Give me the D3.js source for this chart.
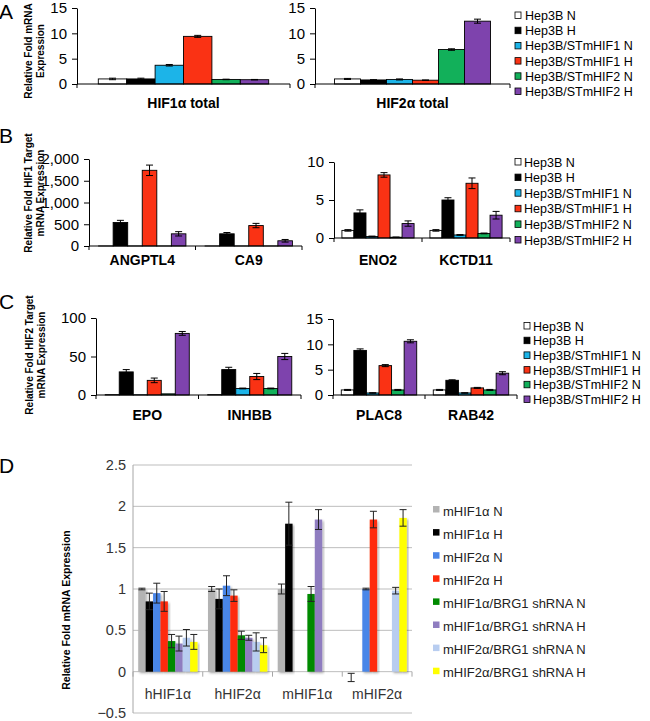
<!DOCTYPE html>
<html>
<head>
<meta charset="utf-8">
<script src="https://cdn.jsdelivr.net/npm/d3@7"></script>
<style>
  body { margin: 0; background: #fff; }
  svg { display: block; font-family: Arial, "Liberation Sans", sans-serif; }
</style>
</head>
<body>
<div class="fig"></div>
<script>
// series shared by panels A, B and C
const hepSeries = ["Hep3B N", "Hep3B H", "Hep3B/STmHIF1 N", "Hep3B/STmHIF1 H", "Hep3B/STmHIF2 N", "Hep3B/STmHIF2 H"];
const hepColors = ["#ffffff", "#000000", "#1cb4e8", "#fa3214", "#12b05a", "#7e43ad"];

// A
const aLeftGenes = ["HIF1α total"];
const aLeftValues = [[1.0, 1.0, 3.7, 9.4, 0.9, 0.85]];
const aLeftErrors = [[0.15, 0.15, 0.15, 0.2, 0.05, 0.05]];
const aRightGenes = ["HIF2α total"];
const aRightValues = [[1.0, 0.8, 0.9, 0.75, 6.8, 12.4]];
const aRightErrors = [[0.1, 0.05, 0.1, 0.05, 0.15, 0.4]];
const aTicks = [0, 5, 10, 15];

// B
const bLeftGenes = ["ANGPTL4", "CA9"];
const bLeftValues = [[1, 540, 1, 1740, 1, 280], [1, 280, 1, 470, 1, 120]];
const bLeftErrors = [[0, 50, 0, 120, 0, 50], [0, 30, 0, 50, 0, 30]];
const bLeftTicks = [0, 500, 1000, 1500, 2000];
const bRightGenes = ["ENO2", "KCTD11"];
const bRightValues = [[1.0, 3.3, 0.2, 8.3, 0.1, 1.9], [1.0, 5.0, 0.4, 7.2, 0.6, 3.0]];
const bRightErrors = [[0.1, 0.4, 0.05, 0.3, 0.02, 0.35], [0.1, 0.3, 0.05, 0.7, 0.05, 0.5]];
const bRightTicks = [0, 5, 10];

// C
const cLeftGenes = ["EPO", "INHBB"];
const cLeftValues = [[0.5, 30, 0.3, 19, 1.5, 80], [0.5, 33, 8.5, 24, 8.5, 50]];
const cLeftErrors = [[0, 3, 0, 3, 0, 2.5], [0, 3, 0.5, 4, 0.5, 4]];
const cLeftTicks = [0, 50, 100];
const cRightGenes = ["PLAC8", "RAB42"];
const cRightValues = [[1.0, 8.8, 0.4, 5.8, 1.0, 10.6], [1.0, 2.9, 0.4, 1.4, 1.0, 4.3]];
const cRightErrors = [[0.1, 0.3, 0.05, 0.2, 0.1, 0.3], [0.1, 0.1, 0.05, 0.1, 0.1, 0.3]];
const cRightTicks = [0, 5, 10, 15];

// D
const dCategories = ["hHIF1α", "hHIF2α", "mHIF1α", "mHIF2α"];
const dSeries = ["mHIF1α N", "mHIF1α H", "mHIF2α N", "mHIF2α H",
  "mHIF1α/BRG1 shRNA N", "mHIF1α/BRG1 shRNA H", "mHIF2α/BRG1 shRNA N", "mHIF2α/BRG1 shRNA H"];
const dColors = ["#b3b3b3", "#000000", "#4a86e8", "#ff2a0a", "#008a00", "#8f7dc0", "#b8cdf0", "#ffff00"];
const dValues = [
  [1.0, 1.0, 1.0, -0.07],
  [0.85, 0.88, 1.79, 0],
  [0.95, 1.04, 0, 1.0],
  [0.85, 0.92, 0, 1.84],
  [0.37, 0.44, 0.94, 0],
  [0.34, 0.41, 1.84, 0],
  [0.41, 0.36, 0, 0.98],
  [0.36, 0.32, 0, 1.86]
];
const dErrors = [
  [0.01, 0.03, 0.06, 0.05],
  [0.1, 0.12, 0.26, 0],
  [0.12, 0.12, 0, 0.01],
  [0.12, 0.07, 0, 0.1],
  [0.08, 0.05, 0.09, 0],
  [0.09, 0.03, 0.12, 0],
  [0.1, 0.11, 0, 0.04],
  [0.09, 0.09, 0, 0.1]
];
const dTicks = [-0.5, 0, 0.5, 1, 1.5, 2, 2.5];

const width = 650, height = 721;

const svg = d3.select('.fig')
  .append('svg')
    .attr('width', width)
    .attr('height', height);

function hepPanel(box, genes, values, errors, ticks) {
  const g = svg.append('g');
  const x0 = d3.scaleBand().domain(genes).range([box.x0, box.x1]);
  const bw = x0.bandwidth();
  const x1 = d3.scaleBand().domain(hepSeries).range([bw * box.pad, bw * (1 - box.pad)]);
  const y = d3.scaleLinear().domain([0, d3.max(ticks)]).range([box.y0, box.yTop]);

  const rows = genes.flatMap((gene, i) => hepSeries.map((s, j) => ({
    gene, s, j, v: values[i][j], e: errors[i][j]
  })));

  g.selectAll('rect.bar')
    .data(rows)
    .enter()
    .append('rect')
      .attr('class', 'bar')
      .attr('x', d => x0(d.gene) + x1(d.s))
      .attr('y', d => y(d.v))
      .attr('width', x1.bandwidth())
      .attr('height', d => y(0) - y(d.v))
      .attr('fill', d => hepColors[d.j])
      .attr('stroke', '#000')
      .attr('stroke-width', 0.9);

  const cap = 3.5;
  const eb = g.selectAll('g.err')
    .data(rows.filter(d => d.e > 0))
    .enter()
    .append('g')
      .attr('class', 'err')
      .attr('transform', d => `translate(${x0(d.gene) + x1(d.s) + x1.bandwidth() / 2},0)`);
  eb.append('line').attr('y1', d => y(d.v - d.e)).attr('y2', d => y(d.v + d.e));
  eb.append('line').attr('x1', -cap).attr('x2', cap).attr('y1', d => y(d.v + d.e)).attr('y2', d => y(d.v + d.e));
  eb.append('line').attr('x1', -cap).attr('x2', cap).attr('y1', d => y(d.v - d.e)).attr('y2', d => y(d.v - d.e));
  eb.selectAll('line').attr('stroke', '#000').attr('stroke-width', 1);

  // y axis
  const ya = g.append('g')
    .attr('transform', `translate(${box.x0},0)`)
    .call(d3.axisLeft(y).tickValues(ticks).tickSize(5).tickSizeOuter(0).tickPadding(5));
  ya.selectAll('text').attr('font-size', '15px').attr('fill', '#000').attr('font-family', null);
  ya.selectAll('line, path').attr('stroke', '#000');

  // x axis with ticks at group edges
  g.append('line')
    .attr('x1', box.x0).attr('x2', box.x1)
    .attr('y1', y(0)).attr('y2', y(0))
    .attr('stroke', '#000');
  const edges = genes.map(d => x0(d)).concat([box.x1]);
  g.selectAll('line.edge')
    .data(edges)
    .enter()
    .append('line')
      .attr('class', 'edge')
      .attr('x1', d => d).attr('x2', d => d)
      .attr('y1', y(0)).attr('y2', y(0) + 4)
      .attr('stroke', '#000');

  g.selectAll('text.cat')
    .data(genes)
    .enter()
    .append('text')
      .attr('class', 'cat')
      .attr('x', d => x0(d) + bw / 2)
      .attr('y', box.labelY)
      .attr('text-anchor', 'middle')
      .attr('font-size', '14px')
      .attr('font-weight', 'bold')
      .text(d => d);
}

function hepLegend(sqX, textX, top, step) {
  const lg = svg.append('g');
  const item = lg.selectAll('g')
    .data(hepSeries)
    .enter()
    .append('g')
      .attr('transform', (d, i) => `translate(0,${top + i * step})`);
  item.append('rect')
    .attr('x', sqX).attr('y', -3.5)
    .attr('width', 6).attr('height', 6.5)
    .attr('fill', (d, i) => hepColors[i])
    .attr('stroke', '#000')
    .attr('stroke-width', 0.8);
  item.append('text')
    .attr('x', textX).attr('y', 4.5)
    .attr('font-size', '12.5px')
    .text(d => d);
}

function yLabel(lines, x, cy, size) {
  const t = svg.append('text')
    .attr('transform', `translate(${x},${cy}) rotate(-90)`)
    .attr('text-anchor', 'middle')
    .attr('font-size', size)
    .attr('font-weight', 'bold');
  lines.forEach((line, i) => {
    t.append('tspan').attr('x', 0).attr('dy', i === 0 ? 0 : '1.15em').text(line);
  });
}

function panelLetter(txt, y) {
  svg.append('text')
    .attr('x', -1).attr('y', y)
    .attr('font-size', '21px')
    .text(txt);
}

// ---- A
panelLetter('A', 19);
yLabel(['Relative Fold mRNA', 'Expression'], 32, 51, '10px');
hepPanel({x0: 77, x1: 290, y0: 84, yTop: 8, pad: 0.1, labelY: 108}, aLeftGenes, aLeftValues, aLeftErrors, aTicks);
hepPanel({x0: 315, x1: 510, y0: 84, yTop: 8, pad: 0.1, labelY: 108}, aRightGenes, aRightValues, aRightErrors, aTicks);
hepLegend(515, 525, 15.5, 15.2);

// ---- B
panelLetter('B', 143);
yLabel(['Relative Fold HIF1 Target', 'mRNA Expression'], 32, 193, '10px');
hepPanel({x0: 89, x1: 302, y0: 246, yTop: 159, pad: 0.09, labelY: 265}, bLeftGenes, bLeftValues, bLeftErrors, bLeftTicks);
hepPanel({x0: 334, x1: 510, y0: 238, yTop: 162, pad: 0.09, labelY: 265}, bRightGenes, bRightValues, bRightErrors, bRightTicks);
hepLegend(515, 524, 162, 15.6);

// ---- C
panelLetter('C', 309);
yLabel(['Relative Fold HIF2 Target', 'mRNA Expression'], 33, 355, '10px');
hepPanel({x0: 96, x1: 301, y0: 395, yTop: 318, pad: 0.09, labelY: 420}, cLeftGenes, cLeftValues, cLeftErrors, cLeftTicks);
hepPanel({x0: 333, x1: 517, y0: 395, yTop: 319, pad: 0.09, labelY: 420}, cRightGenes, cRightValues, cRightErrors, cRightTicks);
hepLegend(524, 533, 326, 14.7);

// ---- D
panelLetter('D', 473);
yLabel(['Relative Fold mRNA Expression'], 70, 610, '10.5px');

const defs = svg.append('defs');
defs.append('filter')
    .attr('id', 'shadow')
    .attr('x', '-30%').attr('y', '-10%').attr('width', '160%').attr('height', '130%')
  .append('feDropShadow')
    .attr('dx', 1.5).attr('dy', 1.5).attr('stdDeviation', 1)
    .attr('flood-color', '#000').attr('flood-opacity', 0.3);

const dBox = {x0: 133, x1: 412};
const dx0 = d3.scaleBand().domain(dCategories).range([dBox.x0, dBox.x1]);
const dbw = dx0.bandwidth();
const dx1 = d3.scaleBand().domain(dSeries).range([dbw * 0.075, dbw * 0.925]);
const dy = d3.scaleLinear().domain([-0.5, 2.5]).range([713, 465]);

const dg = svg.append('g');
dg.selectAll('line.grid')
  .data(dTicks)
  .enter()
  .append('line')
    .attr('class', 'grid')
    .attr('x1', dBox.x0).attr('x2', dBox.x1)
    .attr('y1', d => dy(d)).attr('y2', d => dy(d))
    .attr('stroke', '#bdbdbd');
dg.append('line')
  .attr('x1', dBox.x0).attr('x2', dBox.x0)
  .attr('y1', dy(2.5)).attr('y2', dy(-0.5))
  .attr('stroke', '#a6a6a6');

const dya = dg.append('g')
  .attr('transform', `translate(${dBox.x0},0)`)
  .call(d3.axisLeft(dy).tickValues(dTicks).tickSize(0).tickPadding(7).tickFormat(d3.format('')));
dya.select('.domain').remove();
dya.selectAll('text').attr('font-size', '14.5px').attr('fill', '#333').attr('font-family', null);

const dRows = dCategories.flatMap((cat, i) => dSeries.map((s, j) => ({
  cat, s, j, v: dValues[j][i], e: dErrors[j][i]
})));

dg.selectAll('rect.bar')
  .data(dRows.filter(d => d.v > 0))
  .enter()
  .append('rect')
    .attr('class', 'bar')
    .attr('x', d => dx0(d.cat) + dx1(d.s))
    .attr('y', d => dy(d.v))
    .attr('width', dx1.bandwidth())
    .attr('height', d => dy(0) - dy(d.v))
    .attr('fill', d => dColors[d.j])
    .attr('filter', 'url(#shadow)');

// category axis at zero
dg.selectAll('line.edge')
  .data(dCategories.map(d => dx0(d)).concat([dBox.x1]))
  .enter()
  .append('line')
    .attr('class', 'edge')
    .attr('x1', d => d).attr('x2', d => d)
    .attr('y1', dy(0)).attr('y2', dy(0) + 5)
    .attr('stroke', '#a6a6a6');

const dcap = 3.5;
const deb = dg.selectAll('g.err')
  .data(dRows.filter(d => d.e > 0))
  .enter()
  .append('g')
    .attr('class', 'err')
    .attr('transform', d => `translate(${dx0(d.cat) + dx1(d.s) + dx1.bandwidth() / 2},0)`);
deb.append('line').attr('y1', d => dy(d.v - d.e)).attr('y2', d => dy(d.v + d.e));
deb.append('line').attr('x1', -dcap).attr('x2', dcap).attr('y1', d => dy(d.v + d.e)).attr('y2', d => dy(d.v + d.e));
deb.append('line').attr('x1', -dcap).attr('x2', dcap).attr('y1', d => dy(d.v - d.e)).attr('y2', d => dy(d.v - d.e));
deb.selectAll('line').attr('stroke', '#222').attr('stroke-width', 1);

dg.selectAll('text.cat')
  .data(dCategories)
  .enter()
  .append('text')
    .attr('class', 'cat')
    .attr('x', d => dx0(d) + dbw / 2)
    .attr('y', 699)
    .attr('text-anchor', 'middle')
    .attr('font-size', '14px')
    .attr('fill', '#333')
    .text(d => d);

const dlg = svg.append('g');
const ditem = dlg.selectAll('g')
  .data(dSeries)
  .enter()
  .append('g')
    .attr('transform', (d, i) => `translate(0,${511 + i * 23.1})`);
ditem.append('rect')
  .attr('x', 433).attr('y', -5)
  .attr('width', 6.5).attr('height', 6.5)
  .attr('fill', (d, i) => dColors[i]);
ditem.append('text')
  .attr('x', 443).attr('y', 4.5)
  .attr('font-size', '13px')
  .attr('fill', '#222')
  .text(d => d);
</script>
</body>
</html>
